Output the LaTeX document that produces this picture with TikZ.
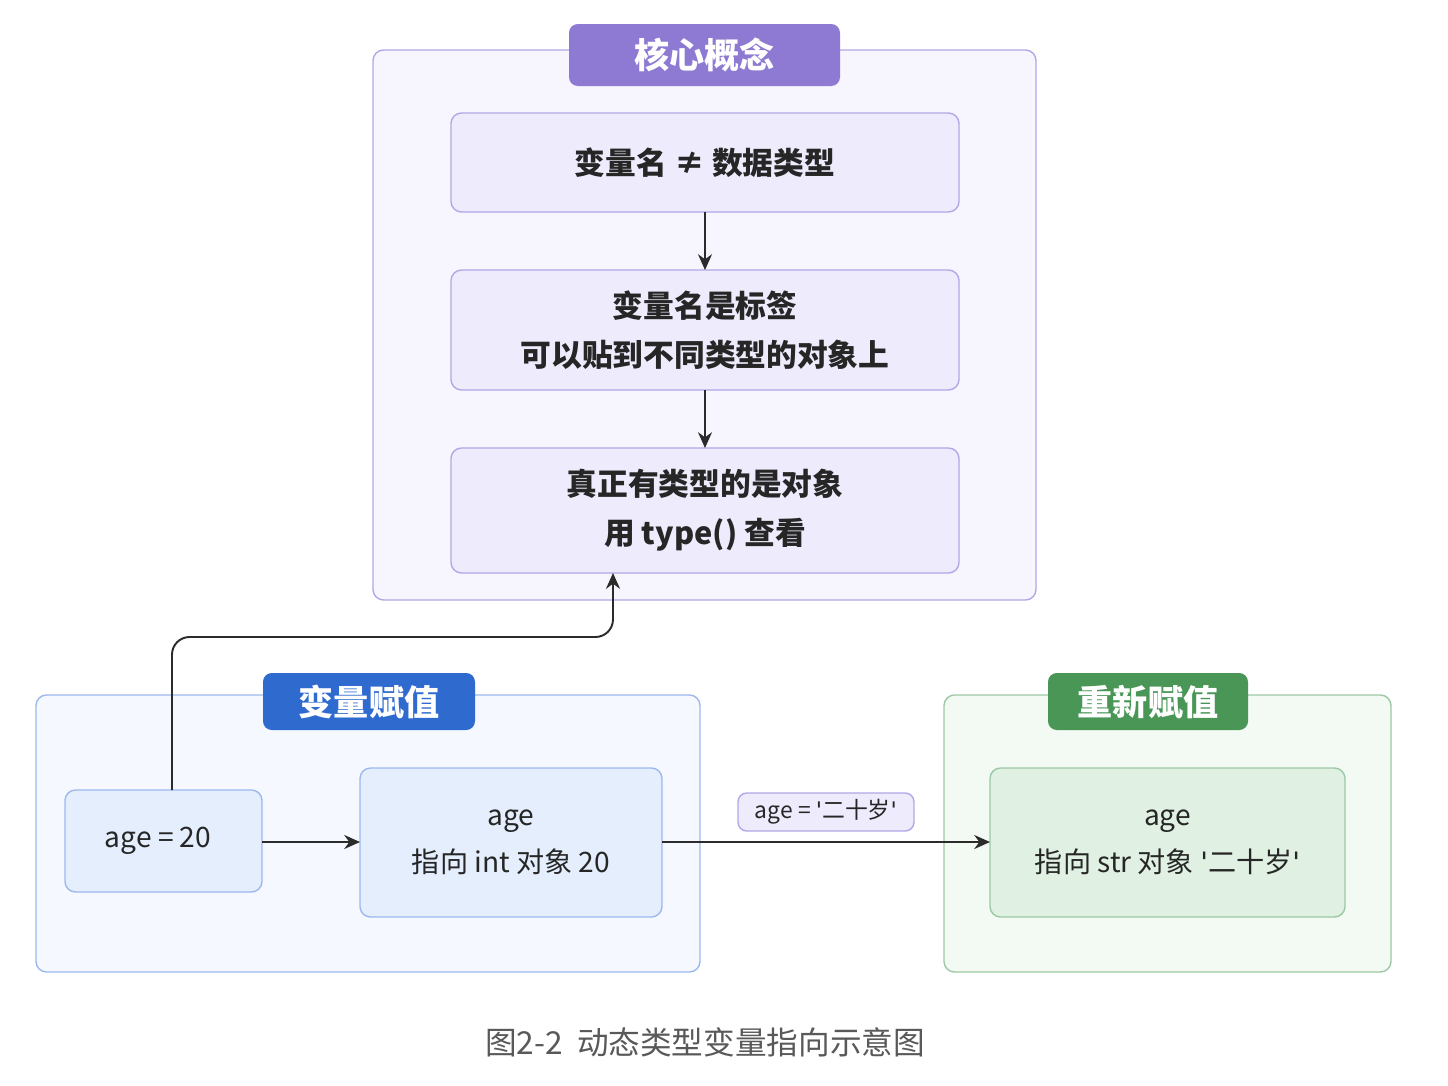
\documentclass[tikz,border=0pt]{standalone}
\usepackage{fontspec}
\setmainfont{Noto Sans CJK SC}
\newfontfamily\quotefont{DejaVu Sans}
\usetikzlibrary{arrows.meta,positioning}
\newcommand\sq{{\quotefont\char"27}}
\definecolor{purpleline}{HTML}{B3A6E8}
\definecolor{purplefill}{HTML}{F7F5FE}
\definecolor{purplebox}{HTML}{EEEBFC}
\definecolor{purpletab}{HTML}{8E7AD2}
\definecolor{blueline}{HTML}{9DB8EE}
\definecolor{bluefill}{HTML}{F5F8FE}
\definecolor{bluebox}{HTML}{E4EEFC}
\definecolor{bluetab}{HTML}{2F6ACF}
\definecolor{greenline}{HTML}{9CC8A4}
\definecolor{greenfill}{HTML}{F3F9F3}
\definecolor{greenbox}{HTML}{E0F0E2}
\definecolor{greentab}{HTML}{4A9656}
\definecolor{arrowcol}{HTML}{2B2B2B}
\tikzset{
  group/.style={draw=#1line, fill=#1fill, rounded corners=6pt, line width=0.8pt},
  box/.style={draw=#1line, fill=#1box, rounded corners=6pt, line width=0.8pt},
  tab/.style={fill=#1tab, draw=none, rounded corners=5pt},
  title/.style={text=white, font=\fontsize{20}{24}\selectfont\bfseries},
  label/.style={align=center, text=black!85, font=\fontsize{16}{27}\selectfont},
  core/.style={label, font=\fontsize{17.5}{28}\selectfont\bfseries},
  flow/.style={-{Stealth[length=9pt,width=8pt]}, draw=arrowcol, line width=1.1pt},
}
\begin{document}
\begin{tikzpicture}[x=0.02cm, y=-0.02cm]
    \fill[white] (0,0) rectangle (1448,1086);

    % core concept group
    \draw[group=purple] (373,50) rectangle (1036,600);
    \fill[tab=purple] (569,24) rectangle (840,86);
    \node[title] (coretitle) at (704.5,55) {核心概念};
    \draw[box=purple] (451,113) rectangle (959,212);
    \node[core] (name) at (705,162.5) {变量名 ≠ 数据类型};
    \draw[box=purple] (451,270) rectangle (959,390);
    \node[core] (tag) at (705,330) {变量名是标签\\可以贴到不同类型的对象上};
    \draw[box=purple] (451,448) rectangle (959,573);
    \node[core] (obj) at (705,510.5) {真正有类型的是对象\\用 type() 查看};
    \coordinate (nameS) at (705,212);
    \coordinate (tagN) at (705,270);
    \coordinate (tagS) at (705,390);
    \coordinate (objN) at (705,448);
    \coordinate (objS) at (613,573);

    % assignment group
    \draw[group=blue] (36,695) rectangle (700,972);
    \fill[tab=blue] (263,673) rectangle (475,730);
    \node[title] (asgtitle) at (369,702) {变量赋值};
    \draw[box=blue] (65,790) rectangle (262,892);
    \node[label] (assign) at (158,841) {age = 20};
    \draw[box=blue] (360,768) rectangle (662,917);
    \node[label] (ptrint) at (511,842.5) {age\\指向 int 对象 20};
    \coordinate (assignN) at (172,790);
    \coordinate (assignE) at (262,842);
    \coordinate (ptrintW) at (360,842);
    \coordinate (ptrintE) at (662,842);

    % reassignment group
    \draw[group=green] (944,695) rectangle (1391,972);
    \fill[tab=green] (1048,673) rectangle (1248,730);
    \node[title] (reasgtitle) at (1148,702) {重新赋值};
    \draw[box=green] (990,768) rectangle (1345,917);
    \node[label] (ptrstr) at (1167.5,842.5) {age\\指向 str 对象 \sq 二十岁\sq};
    \coordinate (ptrstrW) at (990,842);

    % connectors
    \draw[flow] (nameS) -- (tagN);
    \draw[flow] (tagS) -- (objN);
    \draw[flow] (assignE) -- (ptrintW);
    \draw[flow, rounded corners=10pt] (assignN) |- (613,637) -- (objS);
    \draw[flow] (ptrintE) -- (ptrstrW);
    \node[draw=purpleline, fill=purplebox, rounded corners=5pt, line width=0.8pt,
          text=black!85, font=\fontsize{13}{16}\selectfont, minimum width=3.52cm, minimum height=0.76cm]
          (newval) at (826,812) {age = \sq 二十岁\sq};

    % caption
    \node[text=black!65, font=\fontsize{18}{22}\selectfont] (caption) at (705,1042) {图2-2\ \ 动态类型变量指向示意图};
\end{tikzpicture}
\end{document}
